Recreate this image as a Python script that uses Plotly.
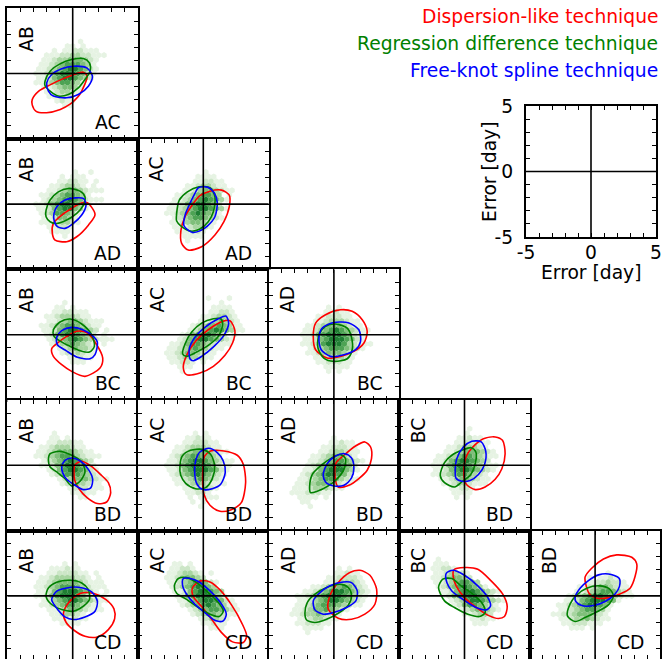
import plotly.graph_objects as go

# ---------------- data ----------------
col_labels = ["AB", "AC", "AD", "BC", "BD"]
row_labels = ["AC", "AD", "BC", "BD", "CD"]
legend_texts = ["Dispersion-like technique", "Regression difference technique", "Free-knot spline technique"]
legend_colors = ["red", "green", "blue"]
sample_ticks = [-5, -4, -3, -2, -1, 0, 1, 2, 3, 4, 5]
sample_ticktext = ["-5", "", "", "", "", "0", "", "", "", "", "5"]
axis_title = "Error [day]"

# contours (x, y) in days; name = colour_column_row
red_AB_AC = [(-3.1,-2.0),(-2.6,-1.35),(-1.7,-0.85),(-0.85,-0.45),(0.05,-0.1),(0.8,0.1),(1.1,-0.2),(0.55,-1.6),(0.2,-2.0),(-0.2,-2.35),(-0.95,-2.75),(-2.0,-3.0),(-2.8,-2.9),(-3.1,-2.4)]
green_AB_AC = [(-2.12,-0.59),(-1.73,0.18),(-0.97,0.74),(-0.08,1.07),(0.82,1.15),(1.28,0.82),(1.33,0.18),(0.94,-0.46),(0.43,-1.10),(-0.33,-1.61),(-1.10,-1.73),(-1.73,-1.35),(-2.12,-0.92)]
blue_AB_AC = [(-1.99,-0.71),(-1.61,-0.08),(-0.84,0.36),(0.05,0.56),(1.07,0.43),(1.51,-0.20),(1.20,-0.97),(0.43,-1.61),(-0.46,-1.86),(-1.48,-1.73),(-1.86,-1.35)]

red_AB_AD = [(-1.48,-1.48),(-0.84,-0.84),(-0.08,-0.33),(0.56,0.05),(1.12,0.10),(1.71,-0.79),(1.20,-1.61),(0.31,-2.50),(-0.46,-2.88),(-1.35,-2.76),(-1.56,-2.24)]
green_AB_AD = [(-2.04,-0.46),(-1.73,0.31),(-1.10,0.94),(-0.33,1.20),(0.56,0.99),(0.94,0.56),(0.82,-0.08),(0.31,-0.71),(-0.46,-1.22),(-1.22,-1.48),(-1.73,-1.35),(-2.04,-0.97)]
blue_AB_AD = [(-1.43,-0.71),(-1.22,-0.20),(-0.59,0.31),(0.18,0.48),(0.82,0.43),(1.02,-0.08),(0.69,-0.84),(0.05,-1.48),(-0.59,-1.86),(-1.17,-1.73),(-1.43,-1.22)]

red_AC_AD = [(-0.26,0.64),(0.51,0.99),(1.40,1.07),(1.99,0.69),(1.99,-0.20),(1.58,-1.35),(0.89,-2.37),(-0.13,-3.27),(-1.15,-3.52),(-1.66,-3.01),(-1.71,-1.99),(-1.40,-0.97),(-0.89,-0.13)]
green_AC_AD = [(-2.04,-0.71),(-1.84,0.31),(-1.22,0.94),(-0.33,1.33),(0.51,1.25),(0.89,0.56),(0.77,-0.59),(0.38,-1.35),(-0.26,-1.91),(-0.97,-2.07),(-1.66,-1.73),(-2.04,-1.30)]
blue_AC_AD = [(-0.38,1.25),(0.31,1.30),(0.82,0.89),(1.07,0.13),(0.89,-0.97),(0.31,-1.68),(-0.31,-2.07),(-0.82,-2.17),(-1.48,-1.66),(-1.38,-0.79),(-1.02,0.05),(-0.64,0.82)]

red_AB_BC = [(-1.61,-1.07),(-1.17,-0.64),(-0.46,-0.13),(0.31,0.26),(1.12,0.13),(1.84,-0.77),(2.30,-1.79),(2.09,-2.55),(0.94,-3.19),(-0.08,-2.81),(-0.84,-2.30),(-1.48,-1.66)]
green_AB_BC = [(-1.48,0.38),(-0.97,0.97),(-0.20,1.20),(0.69,0.82),(1.45,0.0),(1.66,-0.89),(1.28,-1.33),(0.56,-1.22),(-0.20,-0.89),(-0.92,-0.51),(-1.43,-0.13)]
blue_AB_BC = [(-1.22,-0.20),(-0.84,0.31),(-0.08,0.56),(0.77,0.38),(1.58,-0.13),(1.89,-0.56),(1.71,-1.53),(1.33,-1.84),(0.36,-1.73),(-0.51,-1.22),(-1.17,-0.77)]

red_AC_BC = [(-1.53,-2.55),(-1.28,-1.58),(-0.56,-0.46),(0.38,0.38),(1.48,1.02),(2.04,1.07),(2.42,0.31),(2.24,-0.64),(1.66,-1.58),(0.77,-2.42),(-0.26,-2.93),(-1.28,-3.06)]
green_AC_BC = [(-1.58,-1.48),(-1.40,-0.71),(-0.89,0.20),(-0.13,0.89),(0.77,1.22),(1.33,1.22),(1.48,0.77),(1.15,-0.13),(0.38,-0.82),(-0.51,-1.33),(-1.28,-1.66)]
blue_AC_BC = [(-1.02,-1.84),(-1.07,-1.07),(-0.64,-0.20),(0.05,0.51),(0.97,1.12),(1.73,1.43),(1.94,0.89),(1.58,-0.05),(0.82,-0.89),(-0.13,-1.66),(-0.77,-1.99)]

red_AD_BC = [(-1.40,0.89),(-0.64,1.53),(0.51,1.91),(1.40,1.79),(2.17,1.15),(2.55,0.26),(2.30,-0.64),(1.53,-1.28),(0.51,-1.66),(-0.51,-1.79),(-1.40,-1.15),(-1.58,-0.13)]
green_AD_BC = [(-1.15,0.0),(-0.64,0.64),(0.13,0.82),(1.02,0.51),(1.33,-0.13),(1.40,-1.15),(1.02,-1.84),(0.0,-2.04),(-0.77,-1.79),(-1.22,-1.02)]
blue_AD_BC = [(-1.15,-0.26),(-0.89,0.51),(0.0,0.94),(1.15,0.89),(1.91,0.38),(2.04,-0.51),(1.66,-1.15),(0.77,-1.53),(-0.26,-1.66),(-0.97,-1.15)]

red_AB_BD = [(0.18,0.05),(0.69,0.31),(1.38,-0.05),(2.14,-0.71),(2.73,-1.33),(2.91,-2.09),(2.60,-2.81),(1.89,-2.93),(1.12,-2.50),(0.51,-1.84),(0.15,-1.15),(0.10,-0.46)]
green_AB_BD = [(-1.73,0.89),(-0.97,1.07),(-0.20,0.82),(0.69,0.26),(0.94,-0.51),(0.56,-1.22),(-0.08,-1.58),(-0.59,-1.02),(-1.22,-0.51),(-1.73,-0.13),(-1.86,0.38)]
blue_AB_BD = [(-0.84,-0.13),(-0.59,0.38),(-0.08,0.56),(0.61,0.31),(1.20,-0.31),(1.53,-1.07),(1.38,-1.73),(0.82,-1.86),(0.18,-1.53),(-0.46,-1.07),(-0.77,-0.56)]

red_AC_BD = [(0.10,0.71),(0.56,1.10),(1.58,1.10),(2.60,0.77),(3.06,0.08),(3.24,-1.33),(2.91,-2.86),(2.09,-3.42),(1.28,-3.52),(0.51,-3.06),(0.05,-2.22),(-0.05,-0.69)]
green_AC_BD = [(-1.79,-0.05),(-1.61,0.71),(-0.97,1.15),(-0.08,1.22),(0.56,0.84),(0.87,-0.05),(0.69,-1.02),(0.18,-1.71),(-0.59,-1.79),(-1.35,-1.38),(-1.73,-0.77)]
blue_AC_BD = [(-0.59,0.33),(-0.26,1.02),(0.43,1.30),(1.07,0.97),(1.53,0.33),(1.68,-0.56),(1.33,-1.45),(0.69,-1.79),(-0.08,-1.84),(-0.51,-1.38),(-0.66,-0.51)]

red_AD_BD = [(0.33,-1.66),(0.08,-0.82),(0.18,0.20),(0.77,0.77),(1.66,1.48),(2.37,1.79),(2.81,1.40),(2.88,0.51),(2.55,-0.38),(1.91,-1.02),(1.15,-1.53)]
green_AD_BD = [(-1.86,-1.66),(-1.66,-0.71),(-1.02,-0.05),(-0.26,0.51),(0.51,0.82),(0.89,0.51),(0.77,-0.31),(0.26,-1.02),(-0.43,-1.58),(-1.28,-1.99),(-1.79,-2.09)]
blue_AD_BD = [(-0.82,-0.71),(-0.51,0.13),(0.13,0.71),(0.84,0.89),(1.35,0.56),(1.53,-0.20),(1.35,-0.97),(0.77,-1.53),(0.0,-1.58),(-0.64,-1.28)]

red_BC_BD = [(0.10,-1.40),(-0.05,-0.38),(0.18,0.77),(0.82,1.58),(1.45,2.04),(2.35,2.17),(2.91,1.91),(3.11,0.89),(2.86,-0.26),(2.35,-1.07),(1.58,-1.66),(0.82,-1.86)]
green_BC_BD = [(-1.86,-0.77),(-1.53,0.20),(-0.97,0.77),(-0.20,1.15),(0.51,1.35),(0.87,1.02),(0.82,0.13),(0.43,-0.77),(-0.15,-1.22),(-0.77,-1.66),(-1.53,-1.33)]
blue_BC_BD = [(-0.71,-0.51),(-0.59,0.51),(-0.08,1.40),(0.56,1.84),(1.28,1.79),(1.63,1.07),(1.53,0.05),(1.07,-0.71),(0.43,-1.17),(-0.20,-1.22),(-0.66,-0.97)]

red_AB_CD = [(-0.33,-0.54),(0.56,0.18),(1.63,0.18),(2.55,-0.28),(3.16,-0.99),(3.21,-1.76),(2.73,-2.58),(1.89,-3.14),(0.94,-3.09),(0.10,-2.63),(-0.51,-2.02),(-0.71,-1.35)]
green_AB_CD = [(-2.04,-0.03),(-1.86,0.61),(-1.22,1.05),(-0.20,1.20),(0.69,0.99),(1.20,0.48),(1.28,-0.28),(0.82,-0.79),(0.05,-1.17),(-0.84,-1.05),(-1.61,-0.66)]
blue_AB_CD = [(-1.61,-0.28),(-1.22,0.36),(-0.46,0.61),(0.43,0.66),(1.45,0.31),(1.89,-0.41),(1.71,-1.17),(0.94,-1.61),(0.05,-1.81),(-0.59,-1.61),(-1.10,-1.10)]

red_AC_CD = [(-0.82,0.64),(-0.20,1.15),(0.51,1.07),(1.28,0.46),(2.17,-0.71),(2.93,-2.04),(3.32,-3.06),(3.06,-3.57),(2.24,-3.52),(1.40,-2.81),(0.64,-1.79),(-0.13,-0.82),(-0.77,-0.05)]
green_AC_CD = [(-2.22,0.77),(-1.91,1.33),(-1.28,1.40),(-0.51,1.02),(0.38,0.26),(1.15,-0.51),(1.53,-1.15),(1.22,-1.58),(0.51,-1.40),(-0.38,-0.89),(-1.28,-0.26),(-2.04,0.20)]
blue_AC_CD = [(-1.53,1.33),(-1.07,1.35),(-0.38,1.10),(0.51,0.38),(1.40,-0.64),(1.76,-1.40),(1.53,-1.91),(0.97,-1.91),(0.26,-1.40),(-0.64,-0.64),(-1.28,0.13),(-1.58,0.77)]

red_AD_CD = [(-0.43,-1.02),(-0.31,0.0),(0.33,1.02),(1.22,1.79),(1.99,1.96),(2.76,1.58),(3.27,0.51),(3.14,-0.64),(2.37,-1.40),(1.35,-1.79),(0.33,-1.71)]
green_AD_CD = [(-2.22,-1.33),(-2.04,-0.51),(-1.45,0.13),(-0.56,0.64),(0.46,0.89),(1.10,0.64),(1.35,0.05),(1.10,-0.71),(0.33,-1.33),(-0.56,-1.79),(-1.45,-2.04),(-2.09,-1.84)]
blue_AD_CD = [(-1.58,-0.38),(-1.20,0.13),(-0.31,0.77),(0.71,1.07),(1.35,1.02),(1.79,0.38),(1.68,-0.38),(0.97,-0.89),(-0.05,-1.28),(-0.82,-1.40),(-1.45,-1.07)]

red_BC_CD = [(-0.82,1.99),(0.0,2.17),(1.02,2.04),(2.04,1.15),(2.93,0.13),(3.27,-0.82),(3.06,-1.58),(2.60,-1.73),(1.91,-1.53),(1.02,-0.97),(0.0,-0.13),(-0.64,0.77),(-0.87,1.53)]
green_BC_CD = [(-1.99,0.64),(-1.66,1.28),(-0.97,1.33),(-0.26,0.77),(0.64,0.13),(1.40,-0.64),(1.58,-1.28),(1.15,-1.58),(0.26,-1.40),(-0.77,-0.89),(-1.53,-0.38)]
blue_BC_CD = [(-1.40,1.73),(-0.89,1.96),(0.0,1.58),(1.02,0.77),(1.79,-0.13),(1.99,-0.77),(1.66,-1.07),(0.89,-0.89),(-0.13,-0.26),(-0.97,0.38),(-1.35,1.02)]

red_BD_CD = [(-0.77,1.43),(-0.26,2.12),(0.64,2.83),(1.66,3.14),(2.81,2.96),(3.19,2.45),(3.06,1.48),(2.68,0.59),(1.91,0.15),(1.02,-0.13),(0.18,-0.18),(-0.43,0.15)]
green_BD_CD = [(-2.12,-1.53),(-1.91,-0.61),(-1.40,0.08),(-0.64,0.59),(0.33,0.77),(1.10,0.54),(1.40,0.0),(1.02,-0.69),(0.18,-1.20),(-0.77,-1.66),(-1.53,-1.96)]
blue_BD_CD = [(-1.53,-0.10),(-1.15,0.59),(-0.51,1.17),(0.26,1.61),(1.02,1.68),(1.84,1.35),(1.86,0.71),(1.53,0.15),(0.77,-0.43),(-0.13,-0.74),(-1.02,-0.74),(-1.48,-0.43)]

# hexbin density maps (rows top->bottom, '.' empty, '1'..'6' count level)
hex_AB_AC = ["................", ".........1......", ".......11.1.....", "....1.1122111...", "...111223322111..", "..11233444321....", "..11234555431....", ".112345665421....", ".112456665421....", ".11245665432.....", ".1123455431......", "..11234431.......", "...1123321.......", "...11222.........", ".....1211........", "......11.........", "................", "................"]
hex_AB_AD = ["................", "........1..1.....", "......1.111......", ".....112211.1....", "....1123321.1....", "...11234432111...", "..1123455431.....", "..123456542111...", ".11245665431.....", ".1124566431......", "..12355431.......", "..1124431........", "..11123321.......", "...11221.........", "....1111.........", "......1..........", "................", "................"]
hex_AC_AD = ["................", "........1........", ".......1111......", "......112211.....", ".....11233211....", "....1123443211...", "...112345543.1...", "..11234565431....", "..1124566542.....", ".112345665431....", ".11234565431.....", "..1234554321.....", "..112344321......", "..11123321.......", "...111221........", "....1111.........", ".....1...........", "................"]
hex_AB_BC = ["................", "......1..........", ".....11.1........", "....1122111......", "...112333211.....", "...11234432111...", "..112345543211...", "..11245665432.1..", "...1245665432.1..", "...1234565432111.", "....123454321.1..", ".....12343321....", "......1223211....", ".......11211.....", "........111......", "................", "................", "................"]
hex_AC_BC = [".........1...1...", "...........1.....", "..........1111...", ".........11221...", "........1123321..", ".......11234321..", "......1234454311.", ".....12345654311.", "....124566542.1..", "...12456654321...", "..112455432111...", ".11234543211.....", ".1123443211......", ".112333211.......", "..11221.1........", "...111...........", "....1............", "................"]
hex_AD_BC = ["................", "................", ".......1.1.......", "......11211......", ".....1122211.....", "....112333211....", "...11234443211...", "..1123456543211..", "..1124566654211..", "..112456665421...", "..11235666532111.", "...12345554321...", "...1123444321....", "....11233321.....", ".....1122211.....", "......11111......", ".......1.1.......", "................"]
hex_AB_BD = ["................", "....1............", "....11.1.........", "...1122211.......", "..112333211......", ".11234443211.....", ".1123455432111...", "..1234565432.....", "..11245665421....", "...1245665421....", "....1245554321...", ".....1234443211..", "......12333211...", ".......1222111...", "........11211....", ".........11......", "................", "................"]
hex_AC_BD = ["................", "......1.1........", ".....11211.......", "....1122211......", "...112333211.....", "..11234443211....", "..1234554432.....", ".1124566543211...", ".1124566654211...", ".112456665421....", "..12345654321....", "..1123454321.....", "...1123432111....", "....1122321......", ".....11221.......", ".....1.1111......", "......1.1........", ".......1........."]
hex_AD_BD = ["................", "................", "........1........", ".......11211.....", "......1122211....", ".....11233211....", "....112344321....", "...11234554321...", "...1234566542....", "..11245666431....", "..1234566542.....", ".112345543211....", ".11234443211.....", "1112333211.......", "11122211.........", ".1111.1..........", "..11.............", "...1............."]
hex_BC_BD = [".........1.......", "........1........", ".......11211.....", "......1122211....", ".....11233321....", "....1123444321...", "...112345543211..", "..11245665432....", "..1124566543211..", "..112456654321...", "..11234554321....", "...1123443211....", "....112332111....", ".....11221.......", "......1111.......", "......1.1........", "................", "................"]
hex_AB_CD = ["................", "......1.1........", "....111211.......", "...11222211.1....", "..1123333221.1...", ".1123444432111...", ".11234555432111..", ".112456665421.1..", ".11245666542111..", "..1234566543211..", "..112345543211...", "...11234432111...", "....1123321......", "....1111211......", "......1111.......", "................", "................", "................"]
hex_AC_CD = ["................", "..11.1...........", "..11221..........", ".1123321.1.......", ".11234432........", ".1123455421......", "..123456543......", "..1124566543.....", "...1245666431....", "...11345665421...", "....12345654311..", ".....1234554321..", "......123443211..", ".......123321....", "........11211....", ".........111.....", "................", "................"]
hex_AD_CD = ["................", "................", ".........1.1.....", "........11211....", ".......1122221...", "......11233321...", "....11234454321..", "..1123456654321..", ".11234566654321..", ".1123456654321...", ".1123455543211...", "11234454321......", "1123343211.......", ".11233211........", ".1122211.........", "..1111...........", "...1.............", "................"]
hex_BC_CD = ["...1.............", "..111............", "..11221..........", "..1123321........", "..11234432.......", "..112345543......", "...1234565431....", "...112456654321..", "....1245666542...", ".....12356654321.", "......124554321..", ".......12344321..", "........112332...", ".........11211...", "..........111....", "................", "................", "................"]
hex_BD_CD = ["................", "................", "................", "..........1......", ".......1.1121....", "......11223221...", ".....1123443211..", "....11234554321..", "...1234566543211.", "..11245666541....", ".11234566541.....", ".1123455431......", "11223444321......", ".1123343211......", "..11222111.......", "...111.1.........", "................", "................"]

# ---------------- layout constants (pixels / styles) ----------------
W, H = 665, 659
GX0, GY0, CELL = 7.4, 8.2, 130.6
FONT = "DejaVu Sans"
FS = 18.7
HEX_DX, HEX_DY, HEX_X0, HEX_Y0 = 0.4, 0.35, -3.2, 2.8
HEX_COLORS = {"1": "#e6f3e3", "2": "#cce6c7", "3": "#a8d5a1", "4": "#7fbf7a", "5": "#4ea354", "6": "#1f7f33"}

panels = [
    (0, 0, red_AB_AC, green_AB_AC, blue_AB_AC, hex_AB_AC),
    (1, 0, red_AB_AD, green_AB_AD, blue_AB_AD, hex_AB_AD),
    (1, 1, red_AC_AD, green_AC_AD, blue_AC_AD, hex_AC_AD),
    (2, 0, red_AB_BC, green_AB_BC, blue_AB_BC, hex_AB_BC),
    (2, 1, red_AC_BC, green_AC_BC, blue_AC_BC, hex_AC_BC),
    (2, 2, red_AD_BC, green_AD_BC, blue_AD_BC, hex_AD_BC),
    (3, 0, red_AB_BD, green_AB_BD, blue_AB_BD, hex_AB_BD),
    (3, 1, red_AC_BD, green_AC_BD, blue_AC_BD, hex_AC_BD),
    (3, 2, red_AD_BD, green_AD_BD, blue_AD_BD, hex_AD_BD),
    (3, 3, red_BC_BD, green_BC_BD, blue_BC_BD, hex_BC_BD),
    (4, 0, red_AB_CD, green_AB_CD, blue_AB_CD, hex_AB_CD),
    (4, 1, red_AC_CD, green_AC_CD, blue_AC_CD, hex_AC_CD),
    (4, 2, red_AD_CD, green_AD_CD, blue_AD_CD, hex_AD_CD),
    (4, 3, red_BC_CD, green_BC_CD, blue_BC_CD, hex_BC_CD),
    (4, 4, red_BD_CD, green_BD_CD, blue_BD_CD, hex_BD_CD),
]


def hex_cells(rows):
    xs, ys, cs = [], [], []
    for j, row in enumerate(rows):
        y = HEX_Y0 - j * HEX_DY
        off = HEX_DX / 2 if j % 2 else 0.0
        for i, ch in enumerate(row[:17]):
            if ch in HEX_COLORS:
                xs.append(HEX_X0 + i * HEX_DX + off)
                ys.append(y)
                cs.append(HEX_COLORS[ch])
    return xs, ys, cs


def closed(pts):
    xs = [p[0] for p in pts] + [pts[0][0]]
    ys = [p[1] for p in pts] + [pts[0][1]]
    return xs, ys


fig = go.Figure()
layout = {}
shapes = []
annotations = []

base_axis = dict(showline=True, linecolor="black", linewidth=2, mirror="allticks",
                 ticks="inside", ticklen=4, tickwidth=1, tickcolor="black",
                 showgrid=False, zeroline=False, fixedrange=True, automargin=False)


def add_cross(k):
    sx = "x" if k == 1 else f"x{k}"
    sy = "y" if k == 1 else f"y{k}"
    shapes.append(dict(type="line", xref=sx, yref=f"{sy} domain", x0=0, x1=0, y0=0, y1=1,
                       line=dict(color="black", width=1.6), layer="above"))
    shapes.append(dict(type="line", xref=f"{sx} domain", yref=sy, x0=0, x1=1, y0=0, y1=0,
                       line=dict(color="black", width=1.6), layer="above"))


for k, (r, c, red, green, blue, hexmap) in enumerate(panels, start=1):
    x_left = GX0 + c * CELL
    y_top = GY0 + r * CELL
    y_bot = y_top + CELL
    ylo = -5.0
    if y_bot > H:
        ylo = -5.0 + (y_bot - H) / CELL * 10.0
        y_bot = H
    xd = [x_left / W, min((x_left + CELL) / W, 1.0)]
    yd = [max(1 - y_bot / H, 0.0), 1 - y_top / H]
    xname = "xaxis" if k == 1 else f"xaxis{k}"
    yname = "yaxis" if k == 1 else f"yaxis{k}"
    sx = "x" if k == 1 else f"x{k}"
    sy = "y" if k == 1 else f"y{k}"
    layout[xname] = dict(base_axis, domain=xd, range=[-5, 5], anchor=sy, tickmode="linear",
                         tick0=0, dtick=1, showticklabels=False)
    layout[yname] = dict(base_axis, domain=yd, range=[ylo, 5], anchor=sx, tickmode="linear",
                         tick0=0, dtick=1, showticklabels=False)

    hx, hy, hc = hex_cells(hexmap)
    fig.add_trace(go.Scatter(x=hx, y=hy, mode="markers", xaxis=sx, yaxis=sy,
                             marker=dict(symbol="hexagon", size=6.2, color=hc, line=dict(width=0)),
                             hoverinfo="skip", showlegend=False))
    for pts, col in ((red, "red"), (green, "green"), (blue, "blue")):
        cx, cy = closed(pts)
        fig.add_trace(go.Scatter(x=cx, y=cy, mode="lines", xaxis=sx, yaxis=sy,
                                 line=dict(color=col, width=1.6, shape="spline", smoothing=0.8),
                                 hoverinfo="skip", showlegend=False))
    add_cross(k)
    annotations.append(dict(text=col_labels[c], xref=f"{sx} domain", yref=f"{sy} domain",
                            x=0.146, y=0.77, xanchor="center", yanchor="middle", textangle=-90,
                            showarrow=False, font=dict(family=FONT, size=FS, color="black")))
    annotations.append(dict(text=row_labels[r], xref=f"{sx} domain", yref=f"{sy} domain",
                            x=0.888, y=0.125, xanchor="right", yanchor="middle",
                            showarrow=False, font=dict(family=FONT, size=FS, color="black")))

# sample axes panel
k = len(panels) + 1
sx, sy = f"x{k}", f"y{k}"
layout[f"xaxis{k}"] = dict(base_axis, domain=[526 / W, 656 / W], range=[-5, 5], anchor=sy,
                           tickmode="array", tickvals=sample_ticks, ticktext=sample_ticktext,
                           showticklabels=True, ticklabelstandoff=-2,
                           tickfont=dict(family=FONT, size=FS, color="black"))
layout[f"yaxis{k}"] = dict(base_axis, domain=[1 - 237 / H, 1 - 106 / H], range=[-5, 5], anchor=sx,
                           tickmode="array", tickvals=sample_ticks, ticktext=sample_ticktext,
                           showticklabels=True, ticklabelstandoff=7,
                           tickfont=dict(family=FONT, size=FS, color="black"))
fig.add_trace(go.Scatter(x=[None], y=[None], xaxis=sx, yaxis=sy, mode="markers",
                         showlegend=False, hoverinfo="skip"))
add_cross(k)
annotations.append(dict(text=axis_title, xref="paper", yref="paper", x=591 / W, y=1 - 272 / H,
                        xanchor="center", yanchor="middle", showarrow=False, borderpad=0,
                        font=dict(family=FONT, size=FS, color="black")))
annotations.append(dict(text=axis_title, xref="paper", yref="paper", x=490 / W, y=1 - 172 / H,
                        xanchor="center", yanchor="middle", textangle=-90, showarrow=False, borderpad=0,
                        font=dict(family=FONT, size=FS, color="black")))

# legend text
for i, (t, col) in enumerate(zip(legend_texts, legend_colors)):
    annotations.append(dict(text=t, xref="paper", yref="paper", x=659 / W, y=1 - (17 + 26.6 * i) / H,
                            xanchor="right", yanchor="middle", showarrow=False, borderpad=0,
                            font=dict(family=FONT, size=FS, color=col)))

fig.update_layout(width=W, height=H,
                  margin=dict(l=0, r=0, t=0, b=0, pad=0, autoexpand=False),
                  paper_bgcolor="white", plot_bgcolor="white", showlegend=False,
                  shapes=shapes, annotations=annotations, **layout)

fig.write_html("out.html", config={"displayModeBar": False},
               post_script="document.body.style.margin='0px';document.body.style.overflow='hidden';")
